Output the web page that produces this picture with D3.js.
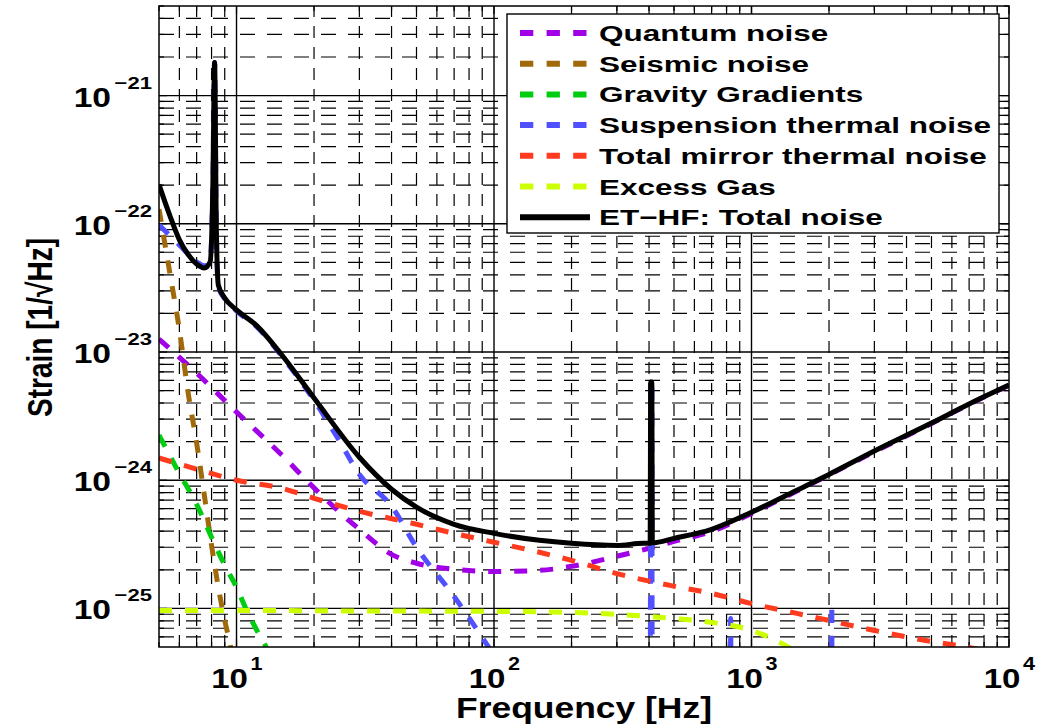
<!DOCTYPE html>
<html><head><meta charset="utf-8">
<script src="https://cdn.jsdelivr.net/npm/d3@7"></script>
<style>
body{margin:0;background:#fff}
svg{display:block}
text{font-family:"Liberation Sans",Arial,Helvetica,sans-serif;font-weight:bold;fill:#000}
</style>
</head><body>
<svg id="chart" width="1047" height="725"></svg>
<script>
// ---------------- data ----------------
const freqQuantum = [5,7,10,15,20,30,40,50,70,100,150,200,300,400,500,700,1000,1500,2000,3000,5000,7000,10000];
const valQuantum  = [1.26e-23,6.85e-24,3.40e-24,1.57e-24,8.71e-25,4.14e-25,2.64e-25,2.25e-25,2.02e-25,1.94e-25,1.98e-25,2.13e-25,2.55e-25,2.94e-25,3.33e-25,3.98e-25,5.50e-25,8.22e-25,1.10e-24,1.67e-24,2.77e-24,3.91e-24,5.50e-24];

const freqSeismic = [5,5.5,6,6.5,7,7.5,8,8.5,9,9.5,10];
const valSeismic  = [1.30e-22,4.22e-23,1.49e-23,4.70e-24,1.95e-24,7.64e-25,3.10e-25,1.46e-25,8.05e-26,4.95e-26,2.5e-26];

const freqGravity = [5,6,7,8,9,10,11,12,13,14];
const valGravity  = [2.25e-24,1.13e-24,6.49e-25,3.59e-25,2.17e-25,1.46e-25,9.48e-26,6.73e-26,5.05e-26,3.5e-26];

const freqSusp = [5,6,7,7.5,7.9,8.1,8.22,8.35,8.5,9,10,12,15,20,25,30,40,50,70,90,100,150,300,404,406,410,412,600,825,830,836,2040,2050,2060,10000];
const valSusp  = [9.8e-23,6.85e-23,5.05e-23,4.70e-23,5.05e-23,2.21e-22,1.81e-21,8.97e-23,3.25e-23,2.60e-23,2.09e-23,1.57e-23,9.25e-24,4.20e-24,2.05e-24,1.11e-24,6.27e-25,3.00e-25,1.24e-25,5.93e-26,4.30e-26,1.2e-26,2e-27,1.2e-27,5.83e-24,5.83e-24,1.2e-27,6e-28,4e-28,8.36e-26,4e-28,1e-28,1.09e-25,1e-28,1e-29];

const freqMirror = [5,7,10,15,20,30,50,70,100,150,200,300,500,700,1000,1500,2000,3000,5000,7000,10000];
const valMirror  = [1.49e-24,1.22e-24,1.0e-24,8.65e-25,7.23e-25,5.73e-25,4.53e-25,3.85e-25,3.28e-25,2.74e-25,2.37e-25,1.87e-25,1.49e-25,1.31e-25,1.09e-25,9.14e-26,8.05e-26,6.73e-26,5.52e-26,4.95e-26,4.2e-26];

const freqGas = [5,10,30,100,200,300,500,700,1000,1200,1400,1600];
const valGas  = [9.64e-26,9.64e-26,9.55e-26,9.48e-26,9.31e-26,8.97e-26,8.36e-26,7.78e-26,6.73e-26,5.83e-26,4.95e-26,4.2e-26];

const freqTotal = [5,5.5,6,6.5,7,7.5,7.9,8.1,8.22,8.35,8.5,9,10,12,15,20,30,40,50,70,100,150,200,300,380,404,406,410,412,500,700,1000,1500,2000,3000,5000,7000,10000];
const valTotal  = [2.02e-22,1.17e-22,7.50e-23,5.73e-23,4.86e-23,4.53e-23,5.05e-23,2.21e-22,1.81e-21,8.97e-23,3.33e-23,2.64e-23,2.13e-23,1.60e-23,9.48e-24,4.38e-24,1.51e-24,8.5e-25,6.17e-25,4.53e-25,3.85e-25,3.40e-25,3.22e-25,3.10e-25,3.22e-25,3.22e-25,5.83e-24,5.83e-24,3.25e-25,3.52e-25,4.14e-25,5.62e-25,8.36e-25,1.11e-24,1.69e-24,2.79e-24,3.93e-24,5.52e-24];

const legendNames = ["Quantum noise","Seismic noise","Gravity Gradients","Suspension thermal noise","Total mirror thermal noise","Excess Gas","ET\u2212HF: Total noise"];
const xTickExps = [1,2,3,4];
const yTickExps = [-25,-24,-23,-22,-21];
const xDomain = [5,1e4];
const yDomain = [5e-26,5e-21];
const xTitle = "Frequency [Hz]";
const yTitle = "Strain [1/\u221AHz]";

// ---------------- layout / style ----------------
const P = {left:159, top:6, right:1009, bottom:647};
const svg = d3.select("#chart");
const x = d3.scaleLog().domain(xDomain).range([P.left,P.right]);
const y = d3.scaleLog().domain(yDomain).range([P.bottom,P.top]);
const isMajor = t => Math.abs(Math.log10(t) - Math.round(Math.log10(t))) < 1e-6;

const xt = x.ticks().filter(t => t >= xDomain[0]*0.999 && t <= xDomain[1]*1.001);
const yt = y.ticks().filter(t => t >= yDomain[0]*0.999 && t <= yDomain[1]*1.001);

// grid
const g = svg.append("g");
xt.forEach(t => {
  const px = x(t);
  if (px <= P.left+0.5 || px >= P.right-0.5) return;
  const maj = isMajor(t);
  g.append("line").attr("x1",px).attr("x2",px).attr("y1",P.bottom).attr("y2",P.top)
    .attr("stroke","#000").attr("stroke-width",maj?1.4:1.2)
    .attr("stroke-dasharray",maj?null:"12,9");
});
yt.forEach(t => {
  const py = y(t);
  if (py <= P.top+0.5 || py >= P.bottom-0.5) return;
  const maj = isMajor(t);
  g.append("line").attr("x1",P.left).attr("x2",P.right).attr("y1",py).attr("y2",py)
    .attr("stroke","#000").attr("stroke-width",maj?1.4:1.2)
    .attr("stroke-dasharray",maj?null:"15,12");
});
// ticks (inside, all four sides)
xt.forEach(t => {
  const px = x(t), L = isMajor(t)?8:5;
  g.append("line").attr("x1",px).attr("x2",px).attr("y1",P.bottom).attr("y2",P.bottom-L).attr("stroke","#000").attr("stroke-width",1.2);
  g.append("line").attr("x1",px).attr("x2",px).attr("y1",P.top).attr("y2",P.top+L).attr("stroke","#000").attr("stroke-width",1.2);
});
yt.forEach(t => {
  const py = y(t), L = isMajor(t)?8:5;
  g.append("line").attr("x1",P.left).attr("x2",P.left+L).attr("y1",py).attr("y2",py).attr("stroke","#000").attr("stroke-width",1.2);
  g.append("line").attr("x1",P.right).attr("x2",P.right-L).attr("y1",py).attr("y2",py).attr("stroke","#000").attr("stroke-width",1.2);
});

// curves
svg.append("clipPath").attr("id","clip").append("rect")
  .attr("x",P.left).attr("y",P.top).attr("width",P.right-P.left).attr("height",P.bottom-P.top);
const series = [
  {f:freqQuantum, v:valQuantum, color:"#a100e6", dash:true},
  {f:freqSeismic, v:valSeismic, color:"#a06a0a", dash:true},
  {f:freqGravity, v:valGravity, color:"#00cc10", dash:true},
  {f:freqSusp,    v:valSusp,    color:"#5050ff", dash:true},
  {f:freqMirror,  v:valMirror,  color:"#ff3b1f", dash:true},
  {f:freqGas,     v:valGas,     color:"#ccff00", dash:true},
  {f:freqTotal,   v:valTotal,   color:"#000000", dash:false}
];
const line = d3.line().x(d=>x(d[0])).y(d=>y(d[1])).curve(d3.curveMonotoneX);
const cg = svg.append("g").attr("clip-path","url(#clip)");
series.forEach(s => {
  const pts = s.f.map((f,i)=>[f,s.v[i]]);
  cg.append("path").attr("d",line(pts)).attr("fill","none")
    .attr("stroke",s.color).attr("stroke-width",5)
    .attr("stroke-dasharray",s.dash?"13,13":null)
    .attr("stroke-linejoin","round");
});

// frame
svg.append("rect").attr("x",P.left).attr("y",P.top).attr("width",P.right-P.left).attr("height",P.bottom-P.top)
  .attr("fill","none").attr("stroke","#000").attr("stroke-width",1.5);

// tick labels
const minus = "\u2212";
yTickExps.forEach(e => {
  const py = y(Math.pow(10,e));
  svg.append("text").attr("transform",`translate(111,${py+11}) scale(1.2,1)`)
    .attr("text-anchor","end").attr("font-size",28).text("10");
  svg.append("text").attr("transform",`translate(152,${py-7}) scale(1.3,1)`)
    .attr("text-anchor","end").attr("font-size",17).text(minus+String(-e));
});
xTickExps.forEach(e => {
  const px = x(Math.pow(10,e));
  svg.append("text").attr("transform",`translate(${px-7},688) scale(1.18,1)`)
    .attr("text-anchor","middle").attr("font-size",28).text("10");
  svg.append("text").attr("transform",`translate(${px+14},670) scale(1.2,1)`)
    .attr("text-anchor","start").attr("font-size",18).text(String(e));
});

// axis titles
svg.append("text").attr("transform",`translate(${(P.left+P.right)/2},718)`)
  .attr("text-anchor","middle").attr("font-size",29.5)
  .attr("textLength",256).attr("lengthAdjust","spacingAndGlyphs").text(xTitle);
svg.append("text").attr("transform",`translate(52,${(P.top+P.bottom)/2+1}) rotate(-90) scale(1,1.3)`)
  .attr("text-anchor","middle").attr("font-size",27)
  .attr("textLength",179).attr("lengthAdjust","spacingAndGlyphs").text(yTitle);

// legend
const LG = {x:507, y:14, w:492, h:219, row0:33, dy:30.7};
svg.append("rect").attr("x",LG.x).attr("y",LG.y).attr("width",LG.w).attr("height",LG.h)
  .attr("fill","#fff").attr("stroke","#000").attr("stroke-width",1.4);
series.forEach((s,i) => {
  const cy = LG.row0 + i*LG.dy;
  svg.append("line").attr("x1",520).attr("x2",590).attr("y1",cy).attr("y2",cy)
    .attr("stroke",s.color).attr("stroke-width",6)
    .attr("stroke-dasharray",s.dash?"13.3,13.3":null);
  svg.append("text").attr("transform",`translate(599,${cy+8}) scale(1.4,1)`)
    .attr("font-size",22.5).text(legendNames[i]);
});
</script>
</body></html>
